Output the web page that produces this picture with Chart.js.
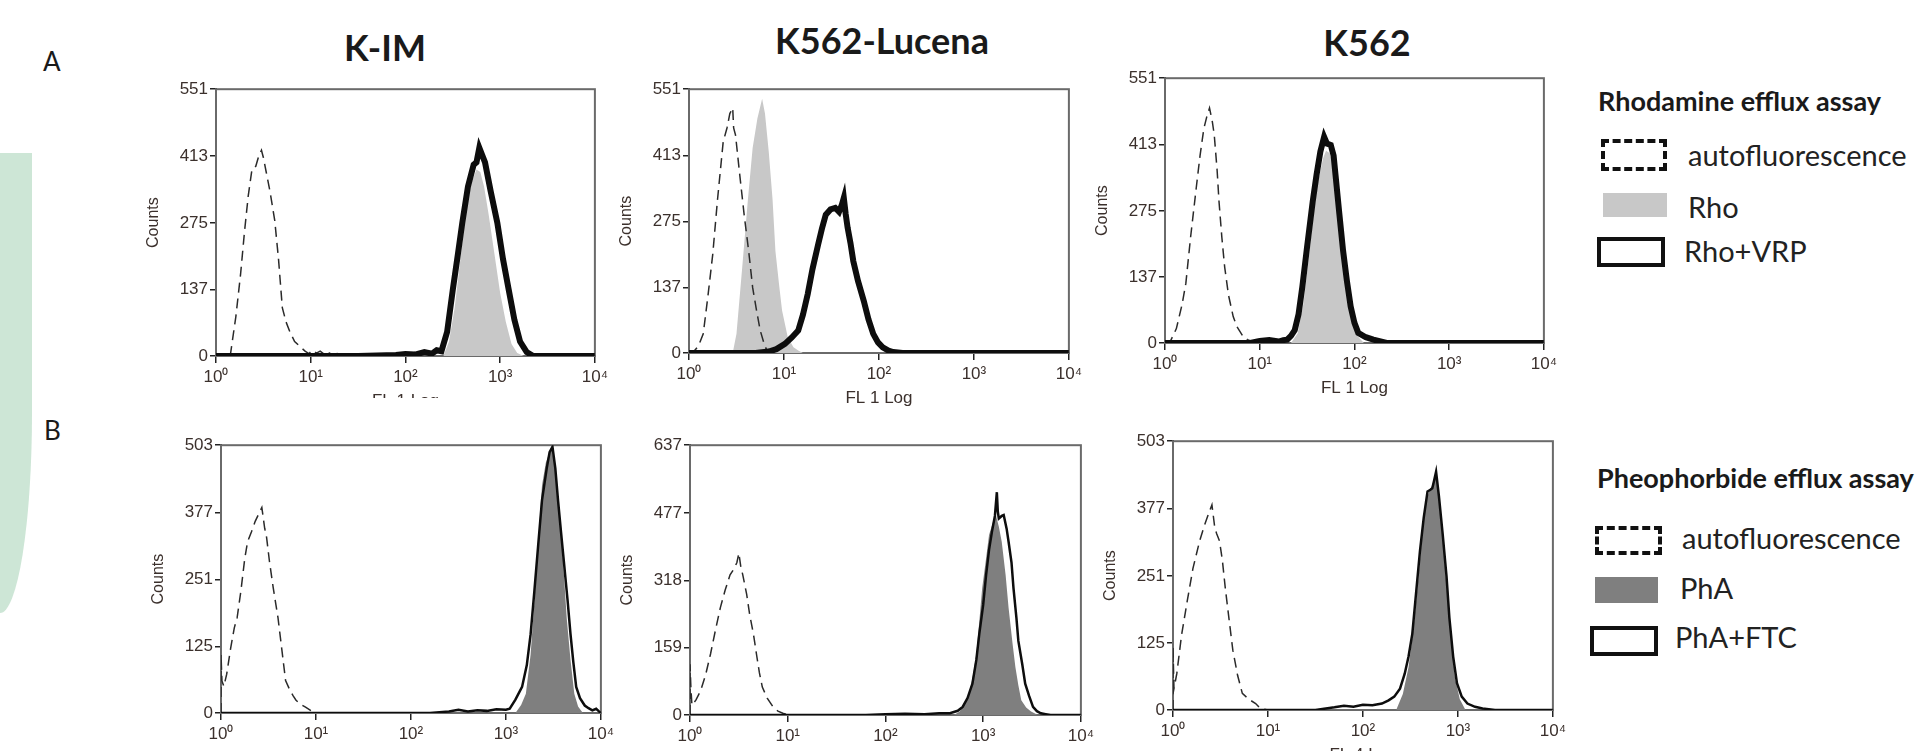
<!DOCTYPE html>
<html>
<head>
<meta charset="utf-8">
<script src="https://cdn.jsdelivr.net/npm/chart.js@4/dist/chart.umd.min.js"></script>
<style>
  html, body { margin: 0; padding: 0; background: #fff; }
  body { width: 1925px; height: 751px; position: relative; overflow: hidden; font-family: Lato, 'Open Sans', sans-serif; color: #1a1a1a; }
  .abs { position: absolute; }
  .wrap { position: absolute; overflow: hidden; }
  .title { position: absolute; width: 300px; text-align: center; font: bold 36px Lato, sans-serif; line-height: 44px; }
  .letter { position: absolute; font: 26px Lato, sans-serif; line-height: 32px; }
  .lghead { position: absolute; font: bold 27px Lato, sans-serif; line-height: 34px; white-space: nowrap; }
  .lg { position: absolute; font: 29px Lato, sans-serif; line-height: 34px; color: #222; white-space: nowrap; }
  .sym { position: absolute; box-sizing: border-box; }
</style>
</head>
<body>

<div class="abs" style="left:0;top:153px;width:32px;height:460px;background:#cde6d6;border-bottom-right-radius:32px 200px;"></div>
<div class="letter" style="left:43px;top:45px;">A</div>
<div class="letter" style="left:44px;top:414px;">B</div>

<div class="title" style="left:235px;top:25px;">K-IM</div>
<div class="title" style="left:732px;top:18px;">K562-Lucena</div>
<div class="title" style="left:1217px;top:20px;">K562</div>

<div class="wrap" id="w1"><canvas id="c1"></canvas></div>
<div class="wrap" id="w2"><canvas id="c2"></canvas></div>
<div class="wrap" id="w3"><canvas id="c3"></canvas></div>
<div class="wrap" id="w4"><canvas id="c4"></canvas></div>
<div class="wrap" id="w5"><canvas id="c5"></canvas></div>
<div class="wrap" id="w6"><canvas id="c6"></canvas></div>

<div class="lghead" style="left:1598px;top:84px;">Rhodamine efflux assay</div>
<div class="sym" style="left:1601px;top:139px;width:66px;height:32px;border:4px dashed #111;"></div>
<div class="lg" style="left:1688px;top:138px;">autofluorescence</div>
<div class="sym" style="left:1603px;top:193px;width:64px;height:24px;background:#c8c8c8;"></div>
<div class="lg" style="left:1688px;top:190px;">Rho</div>
<div class="sym" style="left:1597px;top:237px;width:68px;height:30px;border:4px solid #111;"></div>
<div class="lg" style="left:1684px;top:234px;">Rho+VRP</div>

<div class="lghead" style="left:1597px;top:461px;">Pheophorbide efflux assay</div>
<div class="sym" style="left:1595px;top:526px;width:67px;height:29px;border:4px dashed #111;"></div>
<div class="lg" style="left:1682px;top:521px;">autofluorescence</div>
<div class="sym" style="left:1595px;top:577px;width:63px;height:26px;background:#7f7f7f;"></div>
<div class="lg" style="left:1680px;top:571px;">PhA</div>
<div class="sym" style="left:1590px;top:626px;width:68px;height:30px;border:4px solid #111;"></div>
<div class="lg" style="left:1675px;top:620px;">PhA+FTC</div>

<script>
// x values are decades (log10 of fluorescence), y values are counts
const xTickExps = [0, 1, 2, 3, 4];
const xTickLabels = ['10⁰', '10¹', '10²', '10³', '10⁴'];

const yTicksKimRho = [0, 137, 275, 413, 551];
const yTicksLucRho = [0, 137, 275, 413, 551];
const yTicksK562Rho = [0, 137, 275, 413, 551];
const yTicksKimPha = [0, 125, 251, 377, 503];
const yTicksLucPha = [0, 159, 318, 477, 637];
const yTicksK562Pha = [0, 125, 251, 377, 503];

// K-IM, rhodamine
const kimRhoAutoX = [0.15, 0.21, 0.26, 0.30, 0.34, 0.38, 0.42, 0.45, 0.48, 0.50, 0.53, 0.57, 0.62, 0.66, 0.70, 0.74, 0.78, 0.83, 0.89, 0.94, 0.98, 1.02, 1.06, 1.10, 1.14, 1.18, 1.23, 1.28, 1.33];
const kimRhoAutoY = [0, 82, 170, 255, 330, 386, 392, 412, 425, 410, 380, 340, 280, 200, 100, 70, 50, 30, 19, 10, 5, 12, 6, 10, 4, 8, 3, 5, 0];
const kimRhoX = [2.40, 2.46, 2.52, 2.58, 2.64, 2.70, 2.75, 2.79, 2.83, 2.88, 2.94, 3.00, 3.06, 3.12, 3.18, 3.25];
const kimRhoY = [0, 30, 100, 200, 300, 360, 385, 380, 350, 290, 210, 130, 70, 25, 6, 0];
const kimRhoVrpX = [0, 1.5, 1.9, 2.0, 2.1, 2.2, 2.28, 2.33, 2.38, 2.44, 2.50, 2.55, 2.60, 2.66, 2.72, 2.75, 2.78, 2.81, 2.84, 2.90, 2.97, 3.03, 3.09, 3.15, 3.21, 3.28, 3.35, 4];
const kimRhoVrpY = [0, 0, 2, 4, 3, 8, 5, 12, 10, 50, 137, 205, 275, 350, 395, 400, 430, 415, 400, 340, 275, 200, 137, 75, 30, 8, 0, 0];

// K562-Lucena, rhodamine
const lucRhoAutoX = [0.00, 0.05, 0.10, 0.15, 0.20, 0.25, 0.30, 0.36, 0.40, 0.43, 0.46, 0.47, 0.49, 0.53, 0.58, 0.63, 0.67, 0.71, 0.75, 0.79, 0.82, 0.86];
const lucRhoAutoY = [0, 3, 15, 40, 120, 206, 320, 441, 470, 500, 512, 470, 455, 380, 290, 210, 137, 90, 47, 20, 5, 0];
const lucRhoX = [0.46, 0.50, 0.56, 0.62, 0.67, 0.72, 0.77, 0.80, 0.84, 0.88, 0.91, 0.95, 0.98, 1.04, 1.10, 1.15, 1.20];
const lucRhoY = [0, 40, 178, 320, 428, 490, 531, 500, 420, 320, 213, 140, 89, 33, 12, 5, 0];
const lucRhoVrpX = [0, 0.7, 0.84, 0.92, 1.01, 1.08, 1.15, 1.20, 1.25, 1.30, 1.36, 1.40, 1.44, 1.49, 1.54, 1.58, 1.61, 1.63, 1.65, 1.67, 1.70, 1.73, 1.78, 1.84, 1.89, 1.94, 1.99, 2.04, 2.10, 2.15, 2.25, 4];
const lucRhoVrpY = [0, 0, 3, 8, 19, 32, 47, 80, 123, 175, 227, 260, 289, 300, 303, 295, 310, 324, 290, 262, 230, 192, 150, 109, 70, 40, 22, 12, 5, 2, 0, 0];

// K562, rhodamine
const k562RhoAutoX = [0.0, 0.06, 0.12, 0.18, 0.22, 0.27, 0.33, 0.37, 0.41, 0.44, 0.47, 0.50, 0.52, 0.55, 0.57, 0.60, 0.63, 0.67, 0.72, 0.76, 0.82, 0.87, 0.92, 0.97];
const k562RhoAutoY = [0, 5, 30, 80, 124, 220, 323, 390, 446, 470, 489, 460, 433, 360, 295, 220, 158, 100, 55, 34, 15, 7, 3, 0];
const k562RhoX = [1.33, 1.40, 1.46, 1.52, 1.57, 1.62, 1.67, 1.70, 1.74, 1.78, 1.82, 1.86, 1.90, 1.94, 1.98, 2.03, 2.10];
const k562RhoY = [0, 20, 80, 180, 270, 340, 385, 400, 395, 370, 320, 250, 170, 100, 50, 15, 0];
const k562RhoVrpX = [0, 0.9, 1.0, 1.1, 1.2, 1.25, 1.29, 1.33, 1.37, 1.41, 1.45, 1.50, 1.56, 1.60, 1.64, 1.68, 1.71, 1.75, 1.78, 1.80, 1.84, 1.88, 1.92, 1.96, 2.00, 2.04, 2.12, 2.20, 2.34, 4];
const k562RhoVrpY = [0, 0, 4, 6, 3, 6, 7, 15, 27, 60, 117, 200, 295, 350, 398, 429, 415, 412, 390, 350, 270, 192, 130, 76, 42, 21, 12, 7, 0, 0];

// K-IM, pheophorbide
const kimPhaAutoX = [0.0, 0.0, 0.01, 0.03, 0.06, 0.10, 0.14, 0.17, 0.21, 0.25, 0.28, 0.32, 0.36, 0.40, 0.43, 0.45, 0.46, 0.48, 0.51, 0.55, 0.60, 0.64, 0.68, 0.72, 0.76, 0.79, 0.84, 0.89, 0.95, 1.0];
const kimPhaAutoY = [0, 110, 60, 50, 73, 120, 160, 179, 230, 290, 322, 340, 360, 375, 386, 360, 347, 330, 285, 235, 179, 120, 61, 45, 32, 24, 16, 11, 4, 0];
const kimPhaX = [3.10, 3.16, 3.21, 3.26, 3.30, 3.34, 3.38, 3.42, 3.46, 3.48, 3.51, 3.55, 3.60, 3.64, 3.68, 3.72, 3.76, 3.81];
const kimPhaY = [0, 15, 36, 110, 210, 320, 428, 470, 490, 497, 470, 400, 290, 179, 100, 36, 12, 0];
const kimPhaFtcX = [0, 2.2, 2.4, 2.5, 2.6, 2.7, 2.8, 2.9, 3.0, 3.04, 3.10, 3.17, 3.22, 3.26, 3.30, 3.34, 3.38, 3.43, 3.46, 3.49, 3.52, 3.55, 3.58, 3.61, 3.65, 3.68, 3.71, 3.74, 3.78, 3.83, 3.87, 3.91, 3.95, 3.98, 4];
const kimPhaFtcY = [0, 0, 3, 6, 3, 5, 4, 7, 6, 8, 25, 49, 90, 148, 230, 316, 400, 460, 490, 500, 460, 397, 340, 285, 210, 148, 95, 49, 28, 14, 9, 5, 8, 3, 0];

// K562-Lucena, pheophorbide
const lucPhaAutoX = [0, 0, 0.01, 0.02, 0.06, 0.11, 0.16, 0.21, 0.26, 0.31, 0.36, 0.41, 0.45, 0.48, 0.50, 0.52, 0.54, 0.58, 0.61, 0.65, 0.68, 0.71, 0.74, 0.79, 0.85, 0.90, 0.95, 1.01];
const lucPhaAutoY = [0, 120, 60, 23, 35, 58, 95, 144, 200, 253, 295, 331, 345, 360, 382, 350, 331, 285, 238, 190, 144, 100, 66, 40, 19, 9, 4, 0];
const lucPhaX = [2.70, 2.76, 2.81, 2.86, 2.90, 2.93, 2.96, 2.99, 3.03, 3.06, 3.10, 3.13, 3.16, 3.19, 3.23, 3.26, 3.30, 3.33, 3.36, 3.39, 3.44, 3.49, 3.56];
const lucPhaY = [0, 8, 25, 51, 100, 144, 220, 300, 370, 425, 455, 472, 445, 409, 330, 253, 170, 113, 70, 35, 18, 8, 0];
const lucPhaFtcX = [0, 1.8, 2.0, 2.2, 2.4, 2.55, 2.66, 2.74, 2.79, 2.84, 2.89, 2.93, 2.96, 3.00, 3.03, 3.06, 3.09, 3.12, 3.14, 3.15, 3.16, 3.19, 3.21, 3.24, 3.26, 3.29, 3.31, 3.34, 3.36, 3.40, 3.43, 3.47, 3.51, 3.55, 3.59, 3.64, 3.69, 4];
const lucPhaFtcY = [0, 0, 2, 3, 2, 4, 4, 10, 19, 40, 74, 130, 191, 260, 331, 390, 433, 470, 526, 480, 464, 470, 472, 440, 409, 360, 300, 230, 175, 120, 74, 45, 19, 9, 4, 2, 0, 0];

// K562, pheophorbide
const k562PhaAutoX = [0, 0, 0.01, 0.04, 0.09, 0.15, 0.21, 0.28, 0.33, 0.38, 0.41, 0.44, 0.46, 0.49, 0.52, 0.55, 0.59, 0.63, 0.68, 0.73, 0.80, 0.87, 0.92, 1.0];
const k562PhaAutoY = [0, 118, 40, 68, 140, 204, 265, 316, 345, 370, 384, 341, 330, 316, 280, 229, 170, 112, 65, 31, 20, 12, 3, 0];
const k562PhaX = [2.35, 2.42, 2.48, 2.53, 2.58, 2.62, 2.66, 2.70, 2.73, 2.76, 2.78, 2.81, 2.85, 2.89, 2.93, 2.97, 3.02, 3.08];
const k562PhaY = [0, 30, 80, 150, 240, 320, 390, 410, 420, 440, 430, 370, 300, 210, 130, 60, 20, 0];
const k562PhaFtcX = [0, 1.5, 1.7, 1.8, 1.9, 2.0, 2.1, 2.2, 2.27, 2.33, 2.39, 2.44, 2.48, 2.52, 2.56, 2.60, 2.64, 2.68, 2.71, 2.73, 2.75, 2.77, 2.80, 2.84, 2.88, 2.91, 2.95, 2.99, 3.04, 3.10, 3.18, 3.26, 3.39, 4];
const k562PhaFtcY = [0, 0, 5, 8, 6, 10, 9, 12, 18, 25, 40, 68, 100, 143, 220, 297, 360, 409, 412, 415, 430, 446, 400, 328, 250, 173, 100, 50, 25, 12, 6, 3, 0, 0];

const Y_AXIS_W = 72, X_AXIS_H = 58, PAD_T = 10, PAD_R = 12;

function pts(xs, ys) {
  return xs.map((x, i) => ({ x: x, y: ys[i] }));
}

const framePlugin = {
  id: 'frame',
  beforeDatasetsDraw(chart) {
    const a = chart.chartArea, ctx = chart.ctx;
    ctx.save();
    ctx.strokeStyle = '#6a6a6a';
    ctx.lineWidth = 2;
    ctx.strokeRect(a.left, a.top, a.right - a.left, a.bottom - a.top);
    ctx.restore();
  }
};

function makePanel(n, box, yTicks, xTitle, auto, filled, outline, fillColor, outlineWidth, clipBottom) {
  const wrap = document.getElementById('w' + n);
  const canvas = document.getElementById('c' + n);
  const w = box.r - box.l + Y_AXIS_W + PAD_R;
  const h = box.b - box.t + PAD_T + X_AXIS_H;
  const top = box.t - PAD_T;
  wrap.style.left = (box.l - Y_AXIS_W) + 'px';
  wrap.style.top = top + 'px';
  wrap.style.width = w + 'px';
  wrap.style.height = (clipBottom ? clipBottom - top : h) + 'px';
  canvas.width = w;
  canvas.height = h;

  const family = "'Liberation Sans', Arial, sans-serif";
  const tickFont = { family: family, size: 17 };
  new Chart(canvas, {
    type: 'line',
    data: {
      datasets: [
        { data: pts(outline[0], outline[1]), borderColor: '#0d0d0d', borderWidth: outlineWidth, fill: false, order: 0 },
        { data: pts(auto[0], auto[1]), borderColor: '#2a2a2a', borderWidth: 1.5, borderDash: [10, 6], fill: false, order: 1 },
        { data: pts(filled[0], filled[1]), borderWidth: 0, borderColor: fillColor, backgroundColor: fillColor, fill: 'origin', order: 2 }
      ]
    },
    options: {
      responsive: false,
      animation: false,
      devicePixelRatio: 1,
      elements: { point: { radius: 0 }, line: { tension: 0 } },
      layout: { padding: { left: 0, top: PAD_T, right: PAD_R, bottom: 0 } },
      plugins: { legend: { display: false }, tooltip: { enabled: false } },
      scales: {
        x: {
          type: 'linear', min: 0, max: 4,
          afterBuildTicks: s => { s.ticks = xTickExps.map(v => ({ value: v })); },
          afterFit: s => { s.height = X_AXIS_H; },
          ticks: { autoSkip: false, maxRotation: 0, padding: 4, color: '#3b302c', font: tickFont,
                   callback: (v, i) => xTickLabels[i] },
          grid: { drawOnChartArea: false, tickLength: 7, color: '#222', lineWidth: 1.5 },
          border: { color: '#111', width: 2 },
          title: { display: true, text: xTitle, color: '#3b302c', font: { family: family, size: 17 }, padding: { top: 0, bottom: 2 } }
        },
        y: {
          min: 0, max: yTicks[yTicks.length - 1],
          afterBuildTicks: s => { s.ticks = yTicks.map(v => ({ value: v })); },
          afterFit: s => { s.width = Y_AXIS_W; },
          ticks: { autoSkip: false, padding: 2, color: '#3b302c', font: tickFont, callback: v => v },
          grid: { drawOnChartArea: false, tickLength: 6, color: '#222', lineWidth: 1.5 },
          border: { color: '#111', width: 2 },
          title: { display: true, text: 'Counts', color: '#3b302c', font: { family: family, size: 16 }, padding: { top: 0, bottom: 2 } }
        }
      }
    },
    plugins: [framePlugin]
  });
}

makePanel(1, { l: 216, r: 600, t: 87, b: 356 }, yTicksKimRho, 'FL 1 Log',
  [kimRhoAutoX, kimRhoAutoY], [kimRhoX, kimRhoY], [kimRhoVrpX, kimRhoVrpY], '#c8c8c8', 6, 398);
makePanel(2, { l: 689, r: 1074, t: 87, b: 353 }, yTicksLucRho, 'FL 1 Log',
  [lucRhoAutoX, lucRhoAutoY], [lucRhoX, lucRhoY], [lucRhoVrpX, lucRhoVrpY], '#c8c8c8', 6);
makePanel(3, { l: 1165, r: 1549, t: 76, b: 343 }, yTicksK562Rho, 'FL 1 Log',
  [k562RhoAutoX, k562RhoAutoY], [k562RhoX, k562RhoY], [k562RhoVrpX, k562RhoVrpY], '#c8c8c8', 6);
makePanel(4, { l: 221, r: 606, t: 443, b: 713 }, yTicksKimPha, 'FL 4 Log',
  [kimPhaAutoX, kimPhaAutoY], [kimPhaX, kimPhaY], [kimPhaFtcX, kimPhaFtcY], '#7f7f7f', 2.5);
makePanel(5, { l: 690, r: 1086, t: 443, b: 715 }, yTicksLucPha, 'FL 4 Log',
  [lucPhaAutoX, lucPhaAutoY], [lucPhaX, lucPhaY], [lucPhaFtcX, lucPhaFtcY], '#7f7f7f', 2.5);
makePanel(6, { l: 1173, r: 1558, t: 439, b: 710 }, yTicksK562Pha, 'FL 4 Log',
  [k562PhaAutoX, k562PhaAutoY], [k562PhaX, k562PhaY], [k562PhaFtcX, k562PhaFtcY], '#7f7f7f', 2.5);
</script>
</body>
</html>
